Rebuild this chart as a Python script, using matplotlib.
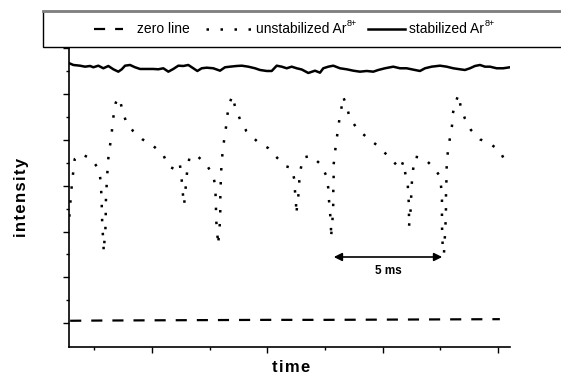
import numpy as np
import matplotlib.pyplot as plt
from matplotlib.lines import Line2D
from matplotlib.patches import Rectangle

plt.rcParams['font.family'] = ['Liberation Sans', 'DejaVu Sans']

# time in ms, intensity in arbitrary units (one minor tick = 1)
t_unstab = [-3.585, -3.554, -3.511, -3.468, -3.411, -3.351, -3.078, -2.614, -2.297, -2.224,
            -2.198, -2.180, -2.167, -2.154, -2.111, -2.094, -2.068, -2.024, -2.007, -2.007,
            -1.994, -1.964, -1.938, -1.907, -1.851, -1.764, -1.721, -1.660, -1.573, -1.417,
            -1.287, -1.127, -0.824, -0.420, 0.043, 0.490, 0.707, 0.984, 1.201, 1.270,
            1.313, 1.357, 1.387, 1.443, 1.474, 1.530, 1.617, 1.907, 2.371, 2.657,
            2.744, 2.761, 2.774, 2.787, 2.831, 2.861, 2.917, 2.948, 2.961, 2.961,
            2.978, 2.991, 3.021, 3.065, 3.134, 3.208, 3.264, 3.351, 3.481, 3.611,
            3.814, 4.088, 4.538, 5.028, 5.431, 5.765, 6.055, 6.168, 6.198, 6.242,
            6.255, 6.298, 6.359, 6.385, 6.446, 6.532, 6.905, 7.339, 7.573, 7.642,
            7.672, 7.716, 7.759, 7.759, 7.802, 7.846, 7.859, 7.859, 7.876, 7.859,
            7.920, 7.976, 8.050, 8.119, 8.206, 8.279, 8.440, 8.552, 8.873, 9.307,
            9.796, 10.260, 10.533, 10.763, 10.893, 10.980, 11.084, 11.110, 11.140, 11.140,
            11.140, 11.205, 11.227, 11.249, 11.270, 11.326, 11.400, 11.790, 12.245, 12.484,
            12.540, 12.570, 12.570, 12.570, 12.583, 12.601, 12.657, 12.679, 12.713, 12.731,
            12.744, 12.744, 12.757, 12.774, 12.774, 12.843, 12.917, 13.004, 13.034, 13.147,
            13.294, 13.381, 13.567, 13.827, 14.218, 14.682, 15.085, 15.345]
i_unstab = [4.647, 5.113, 5.636, 6.147, 6.652, 7.162, 7.380, 7.162, 6.683, 6.173,
            5.636, 5.144, 4.647, 4.141, 3.631, 3.108, 3.514, 4.037, 4.534, 5.039,
            5.549, 6.059, 6.565, 7.075, 7.585, 8.091, 8.601, 9.111, 9.616, 9.834,
            9.298, 8.788, 8.383, 8.021, 7.742, 7.337, 6.857, 6.713, 6.975, 6.434,
            5.929, 5.419, 5.157, 5.667, 6.173, 6.683, 7.193, 7.350, 6.901, 6.434,
            5.955, 5.449, 4.939, 4.429, 3.923, 3.413, 3.993, 4.503, 4.996, 5.506,
            6.016, 6.521, 7.031, 7.524, 8.047, 8.557, 9.067, 9.560, 9.922, 9.398,
            8.893, 8.383, 7.947, 7.642, 7.206, 6.857, 6.770, 6.277, 5.767, 5.257,
            4.752, 5.201, 5.693, 6.203, 6.713, 7.219, 7.306, 6.901, 6.391, 5.885,
            5.375, 4.865, 4.329, 3.718, 4.241, 4.808, 5.331, 5.811, 6.290, 6.813,
            7.293, 7.860, 8.339, 8.862, 9.342, 9.878, 9.503, 9.006, 8.500, 8.108,
            7.729, 7.262, 6.975, 6.713, 7.053, 6.539, 6.103, 5.593, 5.083, 4.590,
            4.211, 4.852, 5.375, 5.737, 6.247, 6.757, 7.262, 7.193, 6.757, 6.399,
            5.885, 5.375, 4.865, 4.359, 3.849, 3.383, 3.021, 3.500, 4.024, 4.534,
            5.039, 5.549, 6.059, 6.565, 7.075, 7.585, 8.091, 8.601, 9.111, 9.616,
            9.965, 9.442, 8.919, 8.426, 8.021, 7.816, 7.498, 7.001]

t_stab = [-3.585, -3.411, -3.121, -2.904, -2.687, -2.544, -2.328, -2.111, -1.894, -1.677,
          -1.461, -1.313, -1.170, -0.954, -0.737, -0.520, -0.230, 0.056, 0.273, 0.490,
          0.707, 0.923, 1.140, 1.357, 1.573, 1.790, 1.964, 2.154, 2.371, 2.657,
          2.948, 3.164, 3.381, 3.671, 3.888, 4.174, 4.465, 4.681, 4.972, 5.189,
          5.405, 5.622, 5.839, 6.055, 6.272, 6.489, 6.775, 7.065, 7.282, 7.425,
          7.642, 7.859, 8.149, 8.440, 8.726, 9.016, 9.307, 9.593, 9.810, 10.100,
          10.460, 10.750, 11.040, 11.400, 11.617, 11.834, 12.124, 12.484, 12.774, 13.060,
          13.351, 13.567, 13.784, 14.001, 14.218, 14.434, 14.651, 14.941, 15.227, 15.518]
i_stab = [11.334, 11.260, 11.229, 11.186, 11.216, 11.160, 11.229, 11.116, 11.216, 11.072,
          10.968, 11.072, 11.229, 11.260, 11.160, 11.086, 11.086, 11.086, 11.072, 11.116,
          10.968, 11.086, 11.229, 11.216, 11.260, 11.116, 10.998, 11.116, 11.142, 11.116,
          11.011, 11.160, 11.186, 11.216, 11.229, 11.186, 11.116, 11.042, 10.998, 10.998,
          11.229, 11.186, 11.116, 11.186, 11.116, 11.064, 10.911, 11.011, 10.924, 11.116,
          11.186, 11.229, 11.116, 11.072, 11.011, 10.968, 10.998, 10.968, 11.042, 11.116,
          11.186, 11.116, 11.116, 11.042, 10.998, 11.116, 11.186, 11.229, 11.186, 11.116,
          11.072, 11.042, 11.116, 11.216, 11.260, 11.186, 11.186, 11.116, 11.116, 11.160]

t_zero = [-3.55, -2.3, 0.0, 2.5, 5.0, 7.5, 10.0, 12.5, 15.08]
i_zero = [0.11, 0.12, 0.13, 0.14, 0.15, 0.15, 0.16, 0.17, 0.18]

period_start, period_end = 7.76, 12.70   # the "5 ms" marker
period_level = 2.89

dash_zero = (0, (5, 4.5))
dash_dot = (0, (1, 4.6))

fig = plt.figure(figsize=(5.61, 3.76), dpi=100)
ax = fig.add_axes([69/561, 29.3/376, 441/561, 298.7/376])

ax.plot(t_zero, i_zero, color='black', lw=1.6, linestyle=dash_zero)
ax.plot(t_unstab, i_unstab, color='black', lw=1.8, linestyle=dash_dot)
ax.plot(t_stab, i_stab, color='black', lw=1.8)

ax.annotate('', xy=(period_start, period_level), xytext=(period_end, period_level),
            arrowprops=dict(arrowstyle='<|-|>', color='black', lw=1.2, mutation_scale=12))
ax.text((period_start + period_end) / 2, period_level - 0.33, '5 ms', ha='center', va='top',
        fontsize=8.5, fontweight='bold')

ax.set_xlim(-3.6, 15.52)
ax.set_ylim(-1.02, 12)
ax.set_xticks([0, 5, 10, 15])
ax.set_xticks([-2.5, 2.5, 7.5, 12.5], minor=True)
ax.set_yticks(np.arange(0, 13, 2))
ax.set_yticks(np.arange(1, 12, 2), minor=True)
ax.tick_params(which='both', direction='out', labelbottom=False, labelleft=False, width=1)
ax.tick_params(which='major', length=4.5)
ax.tick_params(which='minor', length=2.2)
for s in ['top', 'right']:
    ax.spines[s].set_visible(False)
for s in ['left', 'bottom']:
    ax.spines[s].set_linewidth(1.2)

fig.text(291/561, 1 - 367/376, '\u200a'.join('time'), ha='center', va='center',
         fontsize=12, fontweight='bold')
fig.text(22/561, 1 - 197/376, '\u200a'.join('intensity'), ha='center', va='center',
         rotation=90, fontsize=12, fontweight='bold')

# legend frame running off the right edge
fig.add_artist(Rectangle((43/561, 1 - 47/376), 560/561, 36/376, transform=fig.transFigure,
                         facecolor='white', edgecolor='black', lw=1))
fig.add_artist(Line2D([43/561, 1], [1 - 11/376, 1 - 11/376], color='#808080', lw=2,
                      transform=fig.transFigure))
ly = 1 - 29/376
fig.add_artist(Line2D([94/561, 123/561], [ly, ly], color='black', lw=1.6,
                      linestyle=dash_zero, transform=fig.transFigure))
fig.text(137/561, ly, 'zero line', va='center', fontsize=10)
fig.add_artist(Line2D([206/561, 253/561], [ly, ly], color='black', lw=1.8,
                      linestyle=dash_dot, transform=fig.transFigure))
t1 = fig.text(256/561, ly, 'unstabilized Ar', va='center', fontsize=10)
fig.add_artist(Line2D([368/561, 405/561], [ly, ly], color='black', lw=1.8,
                      transform=fig.transFigure))
t2 = fig.text(409/561, ly, 'stabilized Ar', va='center', fontsize=10)

# small "8+" superscripts right after each "Ar"
fig.canvas.draw()
r = fig.canvas.get_renderer()
for t in (t1, t2):
    bb = t.get_window_extent(r).transformed(fig.transFigure.inverted())
    fig.text(bb.x1 + 0.5/561, bb.y1 - 6/376, '8+', fontsize=6.5, va='bottom', ha='left')

fig.savefig('out.png', dpi=100)
